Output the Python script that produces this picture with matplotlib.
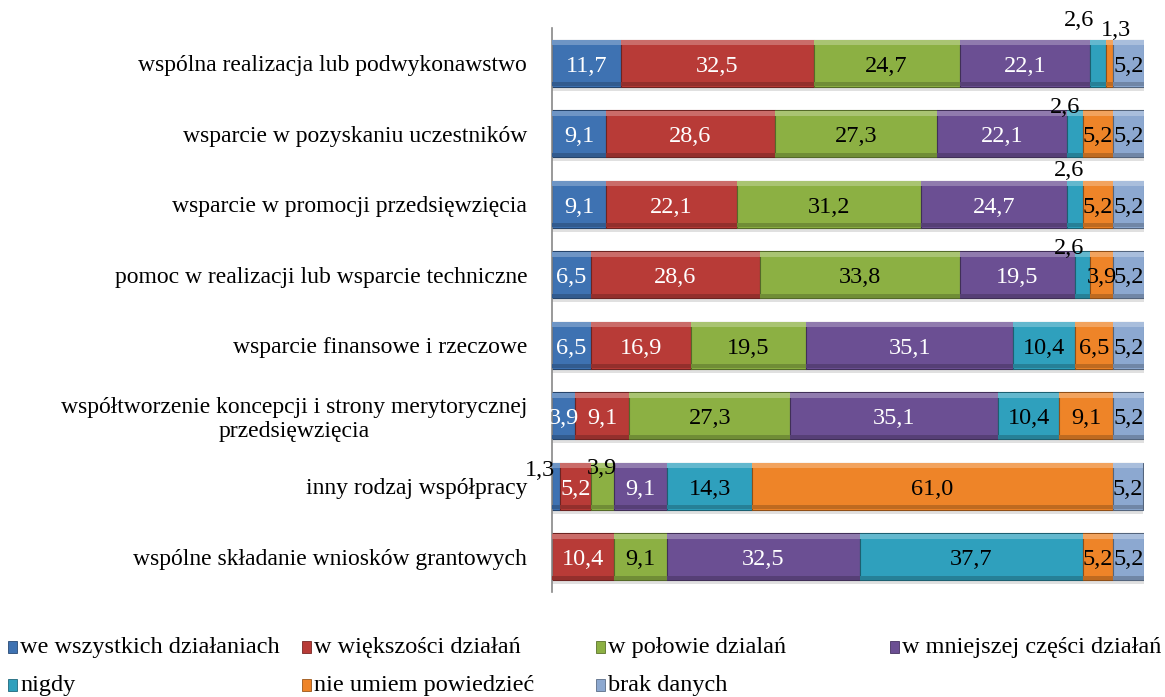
import matplotlib.pyplot as plt
import numpy as np
from matplotlib.patches import Rectangle
from matplotlib.colors import to_rgb

plt.rcParams['font.family'] = ['Liberation Serif', 'DejaVu Serif']

# Data
categories = ['wspólna realizacja lub podwykonawstwo',
              'wsparcie w pozyskaniu uczestników',
              'wsparcie w promocji przedsięwzięcia',
              'pomoc w realizacji lub wsparcie techniczne',
              'wsparcie finansowe i rzeczowe',
              'współtworzenie koncepcji i strony merytorycznej\nprzedsięwzięcia',
              'inny rodzaj współpracy',
              'wspólne składanie wniosków grantowych']
series = ['we wszystkich działaniach', 'w większości działań', 'w połowie dzialań',
          'w mniejszej części działań', 'nigdy', 'nie umiem powiedzieć', 'brak danych']
we_wszystkich = [11.7, 9.1, 9.1, 6.5, 6.5, 3.9, 1.3, 0.0]
w_wiekszosci = [32.5, 28.6, 22.1, 28.6, 16.9, 9.1, 5.2, 10.4]
w_polowie = [24.7, 27.3, 31.2, 33.8, 19.5, 27.3, 3.9, 9.1]
w_mniejszej = [22.1, 22.1, 24.7, 19.5, 35.1, 35.1, 9.1, 32.5]
nigdy = [2.6, 2.6, 2.6, 2.6, 10.4, 10.4, 14.3, 37.7]
nie_umiem = [1.3, 5.2, 5.2, 3.9, 6.5, 9.1, 61.0, 5.2]
brak_danych = [5.2, 5.2, 5.2, 5.2, 5.2, 5.2, 5.2, 5.2]

values = [we_wszystkich, w_wiekszosci, w_polowie, w_mniejszej, nigdy, nie_umiem, brak_danych]
colors = ['#3E72B2', '#B83B37', '#8CB043', '#6B4F93', '#2FA0BD', '#EE8428', '#8CA8D0']
text_colors = ['white', 'white', 'black', 'white', 'black', 'black', 'black']

# labels moved above small segments: (row, series) -> (dx, dy) in pixels
label_offsets = {(0, 4): (-19, 43), (0, 5): (7, 33), (1, 4): (-10, 26),
                 (2, 4): (-6, 34), (3, 4): (-13, 26), (6, 0): (-16, 16),
                 (6, 2): (0, 18)}


def shade(c, f):
    r, g, b = to_rgb(c)
    if f > 0:
        return (r + (1 - r) * f, g + (1 - g) * f, b + (1 - b) * f)
    return (r * (1 + f), g * (1 + f), b * (1 + f))


fig = plt.figure(figsize=(11.65, 6.97), dpi=100)
ax = fig.add_axes([0.474, 0.1507, 0.508, 0.8093])

y = np.arange(len(categories))
h = 0.667
left = np.zeros(len(categories))
for i, vals in enumerate(values):
    vals = np.array(vals)
    # shadow, body, bevel strips
    ax.barh(y + 0.06, vals, h, left=left, color='#e0e0e0', linewidth=0, zorder=1)
    ax.barh(y, vals, h, left=left, color=colors[i], edgecolor=shade(colors[i], -0.4),
            linewidth=0.8, zorder=2)
    ax.barh(y - h / 2 + 0.045, vals, 0.07, left=left, color=shade(colors[i], 0.25),
            linewidth=0, zorder=3)
    ax.barh(y + h / 2 - 0.035, vals, 0.06, left=left, color=shade(colors[i], -0.2),
            linewidth=0, zorder=3)
    for r, v in enumerate(vals):
        if v == 0:
            continue
        xc = left[r] + v / 2
        lab = f'{v:.1f}'.replace('.', ',')
        if (r, i) in label_offsets:
            dx, dy = label_offsets[(r, i)]
            ax.annotate(lab, (xc, y[r]), xytext=(dx, dy),
                        textcoords='offset pixels', ha='center', va='center',
                        fontsize=17.5, color='black', zorder=5)
        else:
            ax.annotate(lab, (xc, y[r]), xytext=(0, -3), textcoords='offset pixels',
                        ha='center', va='center', fontsize=17.5,
                        color=text_colors[i], zorder=5)
    left += vals

ax.set_xlim(0, 100.1)
ax.set_ylim(7.5, -0.5)
ax.set_yticks(y)
ax.set_yticklabels(categories, fontsize=17, multialignment='center')
ax.tick_params(axis='y', length=0, pad=18)
ax.set_xticks([])
for s in ['top', 'right', 'bottom']:
    ax.spines[s].set_visible(False)
ax.spines['left'].set_color('#888888')
ax.spines['left'].set_linewidth(1.2)

# legend, laid out in a 4-column grid
W, H = 1165, 697
for i, name in enumerate(series):
    col, row = i % 4, i // 4
    x0 = 8 + col * 294
    yc = 647 + row * 38
    fig.add_artist(Rectangle((x0 / W, 1 - (yc + 6) / H), 9 / W, 12 / H,
                             transform=fig.transFigure, facecolor=colors[i],
                             edgecolor=shade(colors[i], -0.35), linewidth=0.6))
    fig.text((x0 + 12) / W, 1 - yc / H, name, fontsize=17.5, ha='left', va='center')

fig.savefig('out.png', dpi=100)
